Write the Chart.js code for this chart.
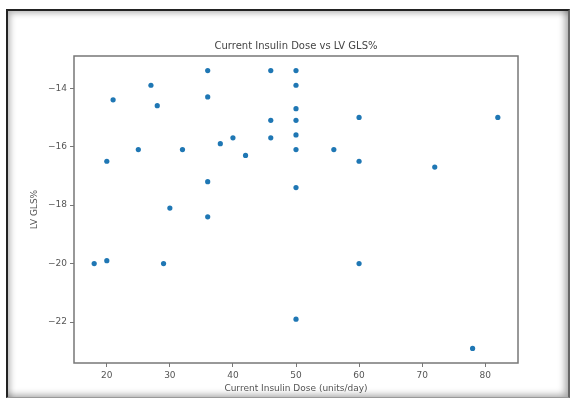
<!DOCTYPE html>
<html>
<head>
<meta charset="utf-8">
<script src="https://cdn.jsdelivr.net/npm/chart.js@4"></script>
<style>
  html, body { margin: 0; padding: 0; background: #fff; }
  #wrap { position: relative; width: 571px; height: 401px; }
  #frame {
    position: absolute; left: 6px; top: 9px; width: 560px; height: 386px;
    border-top: 2px solid #222; border-left: 2px solid #222;
    border-right: 2px solid #666; border-bottom: 1px solid #999;
    box-shadow: inset 6px 6px 6px -4px rgba(0,0,0,0.3), inset -7px -6px 7px -4px rgba(0,0,0,0.35);
    pointer-events: none;
  }
  canvas { position: absolute; left: 0; top: 0; }
</style>
</head>
<body>
<div id="wrap">
  <canvas id="chart" width="571" height="401"></canvas>
  <div id="frame"></div>
</div>
<script>
const blue = '#1f77b4';
const grey = '#555';

// dose (units/day) and LV GLS%
const doses = [36, 46, 50, 27, 50, 21, 28, 36, 50, 46, 50, 40, 46, 50, 38, 25, 32, 50,
  42, 20, 36, 50, 30, 36, 60, 82, 56, 60, 72, 18, 20, 29, 60, 50, 78];
const gls = [-13.4, -13.4, -13.4, -13.9, -13.9, -14.4, -14.6, -14.3, -14.7, -15.1, -15.1, -15.7, -15.7, -15.6, -15.9, -16.1, -16.1, -16.1,
  -16.3, -16.5, -17.2, -17.4, -18.1, -18.4, -15.0, -15.0, -16.1, -16.5, -16.7, -20.0, -19.9, -20.0, -20.0, -21.9, -22.9];

const xTicks = [20, 30, 40, 50, 60, 70, 80];
const yTicks = [-22, -20, -18, -16, -14];

const fmt = (v) => String(v).replace('-', '\u2212');

const points = doses.map((d, i) => ({ x: d, y: gls[i] }));

// box round the plot area plus the title and axis labels, matplotlib style
const boxPlugin = {
  id: 'box',
  afterDraw(chart) {
    const a = chart.chartArea;
    const ctx = chart.ctx;
    const cx = (a.left + a.right) / 2;
    ctx.save();
    ctx.strokeStyle = '#777';
    ctx.lineWidth = 1.5;
    ctx.strokeRect(a.left, a.top, a.right - a.left, a.bottom - a.top);
    ctx.fillStyle = '#444';
    ctx.textAlign = 'center';
    ctx.textBaseline = 'middle';
    ctx.font = '10px "DejaVu Sans"';
    ctx.fillText('Current Insulin Dose vs LV GLS%', cx, 46);
    ctx.fillStyle = grey;
    ctx.font = '9px "DejaVu Sans"';
    ctx.fillText('Current Insulin Dose (units/day)', cx, 389);
    ctx.translate(35, (a.top + a.bottom) / 2);
    ctx.rotate(-Math.PI / 2);
    ctx.fillText('LV GLS%', 0, 0);
    ctx.restore();
  }
};

const config = {
  type: 'scatter',
  data: {
    datasets: [{
      label: 'LV GLS%',
      data: points,
      backgroundColor: blue,
      borderColor: blue,
      pointRadius: 2.6,
      borderWidth: 0,
    }]
  },
  options: {
    responsive: false,
    animation: false,
    layout: { padding: { top: 56, right: 53, left: 0, bottom: 0 } },
    plugins: { legend: { display: false }, tooltip: { enabled: false }, title: { display: false } },
    scales: {
      x: {
        type: 'linear',
        min: 14.8,
        max: 85.2,
        afterBuildTicks: (s) => { s.ticks = xTicks.map(v => ({ value: v })); },
        afterFit: (s) => { s.height = 38; },
        grid: { drawOnChartArea: false, drawTicks: true, tickLength: 4, color: '#777' },
        border: { display: false },
        ticks: { color: grey, font: { family: 'DejaVu Sans', size: 9 }, padding: 3, maxRotation: 0, callback: (v) => fmt(v) }
      },
      y: {
        type: 'linear',
        min: -23.4,
        max: -12.9,
        afterBuildTicks: (s) => { s.ticks = yTicks.map(v => ({ value: v })); },
        afterFit: (s) => { s.width = 74; },
        grid: { drawOnChartArea: false, drawTicks: true, tickLength: 4, color: '#777' },
        border: { display: false },
        ticks: { color: grey, font: { family: 'DejaVu Sans', size: 9 }, padding: 3, callback: (v) => fmt(v) }
      }
    }
  },
  plugins: [boxPlugin]
};

const myChart = new Chart(document.getElementById('chart'), config);
</script>
</body>
</html>
